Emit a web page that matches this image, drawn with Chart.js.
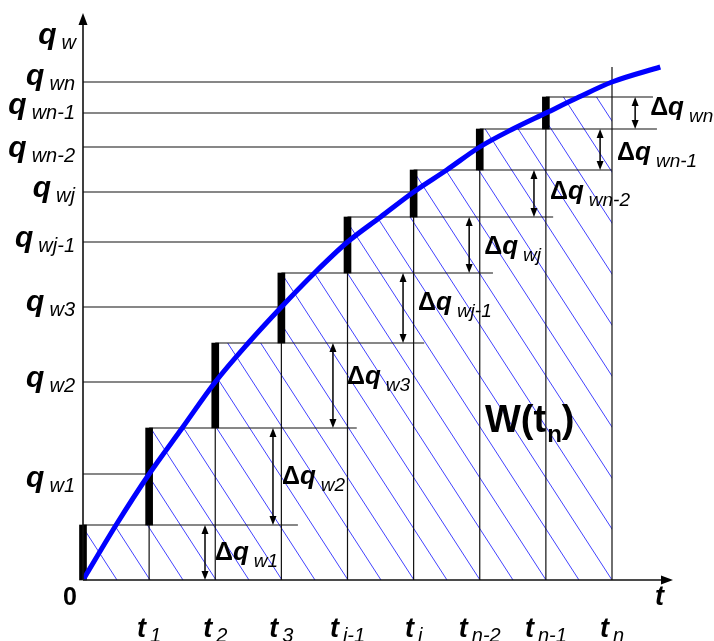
<!DOCTYPE html>
<html><head><meta charset="utf-8">
<script src="https://cdn.jsdelivr.net/npm/chart.js@4/dist/chart.umd.min.js"></script>
<style>html,body{margin:0;padding:0;background:#fff;}canvas{display:block}</style>
</head><body>
<canvas id="c" width="714" height="641"></canvas>
<script>
// ---- data ----
const tCurve = [0,0.5,1,1.5,2,2.5,3,3.5,4,4.5,5,5.5,6,6.5,7,7.5,8,8.73];
const qCurve = [0,0.55,1.06,1.52,1.98,2.37,2.73,3.07,3.38,3.63,3.88,4.10,4.33,4.51,4.67,4.83,4.98,5.13];
const tSteps = [1,2,3,4,5,6,7,8];
const tTickSubs = ['1','2','3','i-1','i','n-2','n-1','n'];
const qLevels = [1.06,1.98,2.73,3.38,3.88,4.33,4.67,4.98];
const qSubs = ['w1','w2','w3','wj-1','wj','wn-2','wn-1','wn'];
const stepTops = [0.55,1.52,2.37,3.07,3.63,4.10,4.51,4.83];
const dqSubs = ['w1','w2','w3','wj-1','wj','wn-2','wn-1','wn'];
const tnLineTop = 5.13;

// ---- layout (not data) ----
const stepLineEnds = [3.25,4.14,5.16,6.2,7.11,8,8.68,8.62];
const arrowX = [1.845,2.873,3.78,4.84,5.84,6.82,7.82,8.35];
const dqDx = [10,9,14,15,15,16,17,15];
const dqDy = [7,7,-2,2,9,5,10,2];
const qLabelDy = [13,5,4,5,5,10,1,3];

const FF = "'Liberation Sans', Arial, sans-serif";

function makeHatch(){
  const w=33,h=51,c=document.createElement('canvas');c.width=w;c.height=h;
  const g=c.getContext('2d');g.strokeStyle='rgba(45,45,255,0.9)';g.lineWidth=1;
  const off=5.7;
  for(let k=-3;k<=3;k++){g.beginPath();g.moveTo(off+k*w-w,-h);g.lineTo(off+k*w+2*w,2*h);g.stroke();}
  return g.createPattern(c,'repeat');
}

// thin structural lines
const segs=[];
function seg(x1,y1,x2,y2){segs.push({x:x1,y:y1},{x:x2,y:y2},{x:x2,y:null});}
qLevels.forEach((q,i)=>seg(0,q,tSteps[i],q));
stepTops.forEach((s,i)=>seg(i,s,stepLineEnds[i],s));
stepTops.forEach((s,i)=>seg(tSteps[i],0,tSteps[i],i===7?tnLineTop:s));

const fillData = stepTops.map((s,i)=>({x:i,y:s})).concat([{x:8,y:stepTops[7]}]);
const barData = stepTops.map((s,i)=>({x:i,y:[i===0?0:stepTops[i-1],s]}));
const curveData = tCurve.map((t,i)=>({x:t,y:qCurve[i]}));

function drawParts(ctx,parts,x,base,align){
  const ws=parts.map(p=>{ctx.font=p.f;return ctx.measureText(p.t).width;});
  const total=ws.reduce((a,b,i)=>a+b+(parts[i].g||0),0);
  let cx=align==='right'?x-total:align==='center'?x-total/2:x;
  parts.forEach((p,i)=>{cx+=p.g||0;ctx.font=p.f;ctx.fillText(p.t,cx,base+(p.dy||0));cx+=ws[i];});
}

const overlay={
  id:'overlay',
  afterDatasetsDraw(chart){
    const {ctx,chartArea:a,scales:{x,y}}=chart;
    ctx.save();
    const x0=x.getPixelForValue(0),y0=y.getPixelForValue(0);
    ctx.strokeStyle='#111';ctx.lineWidth=1.6;
    ctx.beginPath();ctx.moveTo(x0,y0);ctx.lineTo(x0,a.top+8);ctx.moveTo(x0,y0);ctx.lineTo(a.right-8,y0);ctx.stroke();
    ctx.fillStyle='#000';
    ctx.beginPath();ctx.moveTo(x0,a.top);ctx.lineTo(x0-4.5,a.top+12);ctx.lineTo(x0+4.5,a.top+12);ctx.closePath();ctx.fill();
    ctx.beginPath();ctx.moveTo(a.right,y0);ctx.lineTo(a.right-12,y0-4.5);ctx.lineTo(a.right-12,y0+4.5);ctx.closePath();ctx.fill();
    // delta arrows
    ctx.lineWidth=1.5;ctx.strokeStyle='#000';
    arrowX.forEach((ax,i)=>{
      const px=x.getPixelForValue(ax);
      const yb=y.getPixelForValue(i===0?0:stepTops[i-1]);
      const yt=y.getPixelForValue(stepTops[i]);
      ctx.beginPath();ctx.moveTo(px,yb-6);ctx.lineTo(px,yt+6);ctx.stroke();
      ctx.beginPath();ctx.moveTo(px,yt);ctx.lineTo(px-3.5,yt+9);ctx.lineTo(px+3.5,yt+9);ctx.closePath();ctx.fill();
      ctx.beginPath();ctx.moveTo(px,yb);ctx.lineTo(px-3.5,yb-9);ctx.lineTo(px+3.5,yb-9);ctx.closePath();ctx.fill();
      const mid=(yb+yt)/2;
      drawParts(ctx,[
        {t:'\u0394',f:`bold 25px ${FF}`},
        {t:'q',f:`italic bold 26px ${FF}`},
        {t:dqSubs[i],f:`italic 19px ${FF}`,g:5,dy:7}
      ],px+dqDx[i],mid+dqDy[i],'left');
    });
    // y labels
    ctx.fillStyle='#000';ctx.textAlign='left';ctx.textBaseline='alphabetic';
    drawParts(ctx,[{t:'q',f:`italic bold 30px ${FF}`},{t:'w',f:`italic 20px ${FF}`,g:5,dy:5}],76,44,'right');
    qLevels.forEach((q,i)=>{
      const py=y.getPixelForValue(q)+qLabelDy[i];
      drawParts(ctx,[{t:'q',f:`italic bold 30px ${FF}`},{t:qSubs[i],f:`italic 20px ${FF}`,g:5,dy:5}],75,py,'right');
    });
    // x labels
    tSteps.forEach((t,i)=>{
      drawParts(ctx,[{t:'t',f:`italic bold 27px ${FF}`},{t:tTickSubs[i],f:`italic 20px ${FF}`,g:4,dy:5}],x.getPixelForValue(t),637,'center');
    });
    drawParts(ctx,[{t:'0',f:`bold 25px ${FF}`}],70,605,'center');
    drawParts(ctx,[{t:'t',f:`italic bold 27px ${FF}`}],655,605,'left');
    drawParts(ctx,[{t:'W(t',f:`bold 38px ${FF}`},{t:'n',f:`bold 24px ${FF}`,g:1,dy:10},{t:')',f:`bold 38px ${FF}`}],485,432,'left');
    ctx.restore();
  }
};

new Chart(document.getElementById('c'),{
  type:'line',
  data:{datasets:[
    {type:'line',data:curveData,borderColor:'#0000ff',borderWidth:5,cubicInterpolationMode:'monotone',pointRadius:0,order:0,fill:false},
    {type:'bar',data:barData,backgroundColor:'#000',barThickness:7,grouped:false,borderWidth:0,order:1,clip:false},
    {type:'line',data:segs,borderColor:'#111',borderWidth:1.2,pointRadius:0,spanGaps:false,order:2,fill:false},
    {type:'line',data:fillData,stepped:true,borderWidth:0,borderColor:'rgba(0,0,0,0)',pointRadius:0,fill:'origin',backgroundColor:makeHatch(),order:3}
  ]},
  options:{
    responsive:false,animation:false,devicePixelRatio:1,
    layout:{padding:{left:83,right:41,top:13,bottom:61}},
    scales:{
      x:{type:'linear',min:0,max:8.9225,offset:false,display:false,grid:{offset:false}},
      y:{type:'linear',min:0,max:5.67,display:false}
    },
    plugins:{legend:{display:false},tooltip:{enabled:false}}
  },
  plugins:[overlay]
});
</script>
</body></html>
